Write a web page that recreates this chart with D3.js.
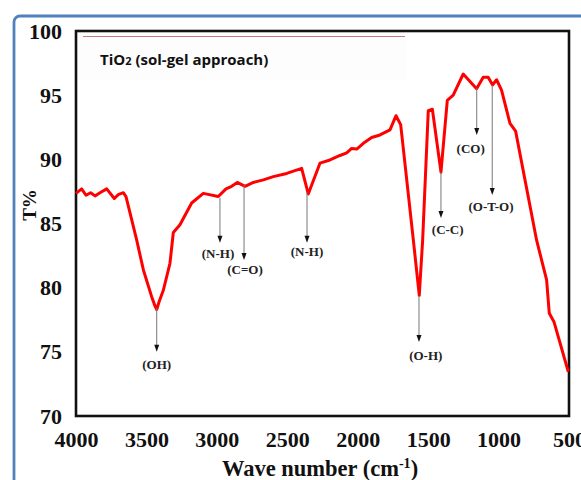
<!DOCTYPE html>
<html><head><meta charset="utf-8">
<script src="https://cdn.jsdelivr.net/npm/d3@7"></script>
<style>body{margin:0;background:#fff;} svg{display:block;}</style>
</head><body>
<svg id="c" width="581" height="480"></svg>
<script>
const wavenumber = [4000,3960,3929,3896,3865,3830,3782,3728,3700,3664,3645,3569,3522,3463,3440,3427,3410,3380,3333,3309,3262,3179,3096,2990,2935,2895,2855,2800,2741,2670,2599,2504,2398,2351,2268,2197,2126,2078,2043,2007,1960,1901,1842,1771,1728,1695,1605,1563,1539,1499,1470,1409,1364,1322,1251,1156,1109,1074,1042,1014,979,919,879,730,659,640,607,505];
const transmittance = [87.35,87.7,87.2,87.4,87.15,87.4,87.7,86.95,87.25,87.4,87.1,83.7,81.4,79.3,78.6,78.3,78.9,79.8,81.9,84.3,84.9,86.6,87.35,87.1,87.7,87.9,88.2,87.9,88.2,88.4,88.65,88.9,89.3,87.3,89.7,89.95,90.3,90.5,90.85,90.8,91.25,91.7,91.9,92.3,93.4,92.7,83.7,79.4,83.7,93.8,93.9,89.0,94.6,95.0,96.65,95.5,96.4,96.4,95.8,96.2,95.4,92.8,92.2,83.7,80.6,78.0,77.35,73.45];
const xTicks = [4000,3500,3000,2500,2000,1500,1000,500];
const yTicks = [70,75,80,85,90,95,100];
const annLabels = ["(OH)","(N-H)","(C=O)","(N-H)","(O-H)","(C-C)","(CO)","(O-T-O)"];
const annWn = [3427,2978,2807,2360,1565,1409,1155,1045];
const annFromT = [78.4,87.0,88.0,87.4,79.35,89.0,95.56,95.8];
const annToT = [75.0,83.5,82.15,83.5,75.77,85.43,91.9,87.22];
const annLabelWn = [3427,2992,2800,2360,1517,1361,1198,1054];
const annLabelT = [74.0,82.7,81.45,82.8,74.75,84.57,90.88,86.36];

const svg = d3.select("#c");
const x = d3.scaleLinear().domain([4000,500]).range([76,569]);
const y = d3.scaleLinear().domain([70,100]).range([416,31]);

// blue outer frame
svg.append("rect").attr("x",14).attr("y",16).attr("width",600).attr("height",500)
  .attr("rx",6).attr("fill","none").attr("stroke","#4f81bd").attr("stroke-width",2.8);

// faint legend box
svg.append("rect").attr("x",77).attr("y",31).attr("width",329).attr("height",49).attr("fill","#fdfdfd");
svg.append("line").attr("x1",83).attr("x2",405).attr("y1",36.5).attr("y2",36.5)
  .attr("stroke","#c47a7a").attr("stroke-width",1.2);

const serif = "'Liberation Serif','Times New Roman',serif";

// axes
const gx = svg.append("g").attr("transform",`translate(0,${y(70)})`)
  .call(d3.axisBottom(x).tickValues(xTicks).tickSize(0).tickPadding(15).tickFormat(d3.format("d")));
gx.select(".domain").remove();
gx.selectAll("text").attr("font-family",serif).attr("font-weight","bold").attr("font-size",22).attr("fill","#111");

const gy = svg.append("g").attr("transform",`translate(${x(4000)},0)`)
  .call(d3.axisLeft(y).tickValues(yTicks).tickSize(0).tickPadding(14).tickFormat(d3.format("d")));
gy.select(".domain").remove();
gy.selectAll("text").attr("font-family",serif).attr("font-weight","bold").attr("font-size",22).attr("fill","#111");

// plot frame
svg.append("rect").attr("x",x(4000)).attr("y",y(100)).attr("width",x(500)-x(4000)).attr("height",y(70)-y(100))
  .attr("fill","none").attr("stroke","#111").attr("stroke-width",2.6);

// title inside
const t = svg.append("text").attr("x",100).attr("y",65).attr("font-family","'Open Sans',sans-serif")
  .attr("font-weight","bold").attr("font-size",15).attr("fill","#111");
t.append("tspan").text("TiO");
t.append("tspan").attr("font-size",11).text("2");
t.append("tspan").text(" (sol-gel approach)");

// curve
const data = wavenumber.map((w,i)=>[w,transmittance[i]]);
svg.append("path").datum(data).attr("fill","none").attr("stroke","#ff0000").attr("stroke-width",3)
  .attr("stroke-linejoin","round")
  .attr("d",d3.line().x(d=>x(d[0])).y(d=>y(d[1])));

// annotations
annLabels.forEach((lab,i)=>{
  const xx = x(annWn[i]);
  const y1 = y(annFromT[i]), y2 = y(annToT[i]);
  svg.append("line").attr("x1",xx).attr("x2",xx).attr("y1",y1).attr("y2",y2-6)
    .attr("stroke","#777").attr("stroke-width",1);
  svg.append("path").attr("d",`M${xx-2.5},${y2-7} L${xx+2.5},${y2-7} L${xx},${y2} Z`).attr("fill","#111");
  svg.append("text").attr("x",x(annLabelWn[i])).attr("y",y(annLabelT[i])).attr("dy","0.35em")
    .attr("text-anchor","middle").attr("font-family",serif).attr("font-weight","bold")
    .attr("font-size",13).attr("fill","#222").text(lab);
});

// axis titles
const xt = svg.append("text").attr("x",320).attr("y",476).attr("text-anchor","middle")
  .attr("font-family",serif).attr("font-weight","bold").attr("font-size",22.5).attr("fill","#111");
xt.append("tspan").text("Wave number (cm");
xt.append("tspan").attr("font-size",14).attr("dy",-8).text("-1");
xt.append("tspan").attr("dy",8).text(")");

svg.append("text").attr("transform","translate(36,205) rotate(-90)").attr("text-anchor","middle")
  .attr("font-family",serif).attr("font-weight","bold").attr("font-size",19).attr("fill","#111").text("T%");
</script>
</body></html>
